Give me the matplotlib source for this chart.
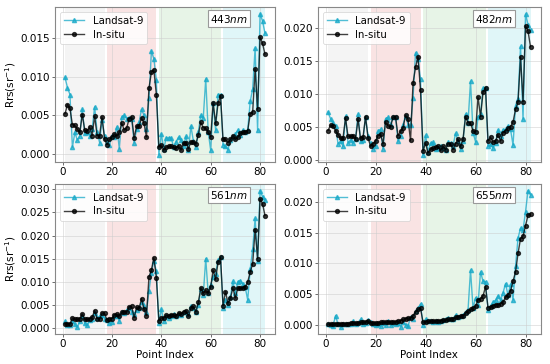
import matplotlib
matplotlib.use("Agg")
import matplotlib.pyplot as plt
from matplotlib.ticker import MultipleLocator, FormatStrFormatter
import numpy as np

idx = np.arange(1, 83)

ls_443 = [0.0099,0.0086,0.0077,0.0009,0.0028,0.0018,0.0024,0.0058,0.0027,0.0029,
          0.0023,0.0033,0.0061,0.0029,0.0015,0.0044,0.0024,0.0016,0.0012,0.0024,
          0.0022,0.0035,0.0007,0.0048,0.0050,0.0046,0.0047,0.0045,0.0015,0.0032,
          0.0041,0.0058,0.0050,0.0033,0.0072,0.0133,0.0123,0.0096,-0.0001,0.0026,
          0.0007,0.0021,0.0021,0.0021,0.0009,0.0016,0.0022,0.0018,0.0010,0.0023,
          0.0006,0.0036,0.0017,0.0009,0.0029,0.0050,0.0047,0.0097,0.0029,0.0005,
          0.0066,0.0031,0.0077,0.0077,0.0012,0.0010,0.0006,0.0018,0.0022,0.0026,
          0.0031,0.0025,0.0031,0.0029,0.0031,0.0068,0.0084,0.0137,0.0031,0.0181,
          0.0172,0.0156]
is_443 = [0.0052,0.0064,0.0059,0.0038,0.0037,0.0032,0.0028,0.0051,0.0031,0.0030,
          0.0035,0.0024,0.0049,0.0024,0.0024,0.0048,0.0020,0.0012,0.0019,0.0022,
          0.0026,0.0023,0.0028,0.0040,0.0031,0.0034,0.0046,0.0048,0.0021,0.0036,
          0.0036,0.0047,0.0040,0.0022,0.0085,0.0106,0.0109,0.0077,0.0009,0.0012,
          0.0005,0.0009,0.0010,0.0010,0.0009,0.0008,0.0011,0.0005,0.0014,0.0015,
          0.0007,0.0016,0.0016,0.0013,0.0025,0.0041,0.0034,0.0034,0.0028,0.0022,
          0.0066,0.0040,0.0066,0.0075,0.0019,0.0019,0.0015,0.0019,0.0024,0.0019,
          0.0022,0.0027,0.0028,0.0029,0.0030,0.0052,0.0054,0.0110,0.0058,0.0151,
          0.0143,0.0129]

ls_482 = [0.0072,0.0062,0.0055,0.0051,0.0024,0.0028,0.0020,0.0066,0.0025,0.0030,
          0.0025,0.0031,0.0069,0.0028,0.0030,0.0064,0.0036,0.0025,0.0016,0.0020,
          0.0043,0.0046,0.0016,0.0062,0.0064,0.0053,0.0064,0.0064,0.0028,0.0036,
          0.0053,0.0066,0.0053,0.0052,0.0093,0.0162,0.0153,0.0122,0.0007,0.0037,
          0.0012,0.0025,0.0026,0.0016,0.0018,0.0021,0.0018,0.0014,0.0026,0.0025,
          0.0020,0.0040,0.0028,0.0016,0.0028,0.0069,0.0056,0.0119,0.0041,0.0027,
          0.0065,0.0069,0.0108,0.0109,0.0020,0.0023,0.0018,0.0025,0.0045,0.0036,
          0.0045,0.0046,0.0051,0.0046,0.0022,0.0082,0.0092,0.0172,0.0061,0.0221,
          0.0205,0.0196]
is_482 = [0.0044,0.0052,0.0051,0.0044,0.0038,0.0032,0.0033,0.0063,0.0035,0.0035,
          0.0036,0.0031,0.0061,0.0032,0.0034,0.0065,0.0033,0.0020,0.0024,0.0028,
          0.0036,0.0039,0.0024,0.0057,0.0051,0.0050,0.0064,0.0065,0.0036,0.0043,
          0.0048,0.0067,0.0061,0.0029,0.0116,0.0140,0.0156,0.0105,0.0013,0.0025,
          0.0010,0.0016,0.0017,0.0019,0.0020,0.0014,0.0020,0.0015,0.0024,0.0024,
          0.0015,0.0024,0.0031,0.0020,0.0031,0.0065,0.0056,0.0056,0.0043,0.0042,
          0.0095,0.0065,0.0102,0.0109,0.0028,0.0034,0.0026,0.0028,0.0038,0.0028,
          0.0041,0.0044,0.0048,0.0050,0.0057,0.0076,0.0087,0.0155,0.0088,0.0203,
          0.0195,0.0171]

ls_561 = [0.0015,0.0008,0.0006,0.0016,0.0009,0.0002,0.0015,0.0026,0.0011,0.0006,
          0.0018,0.0021,0.0033,0.0022,0.0026,0.0029,0.0021,0.0018,0.0012,0.0014,
          0.0026,0.0026,0.0016,0.0036,0.0032,0.0040,0.0043,0.0036,0.0030,0.0040,
          0.0043,0.0056,0.0047,0.0036,0.0080,0.0120,0.0146,0.0123,0.0012,0.0041,
          0.0016,0.0026,0.0023,0.0027,0.0030,0.0026,0.0031,0.0028,0.0034,0.0035,
          0.0030,0.0049,0.0043,0.0034,0.0050,0.0084,0.0072,0.0150,0.0075,0.0094,
          0.0110,0.0118,0.0148,0.0153,0.0043,0.0061,0.0050,0.0068,0.0101,0.0075,
          0.0100,0.0103,0.0096,0.0088,0.0061,0.0127,0.0170,0.0237,0.0146,0.0297,
          0.0284,0.0277]
is_561 = [0.0009,0.0010,0.0009,0.0022,0.0019,0.0019,0.0021,0.0031,0.0019,0.0019,
          0.0021,0.0024,0.0038,0.0021,0.0020,0.0033,0.0032,0.0018,0.0021,0.0021,
          0.0029,0.0030,0.0026,0.0034,0.0036,0.0036,0.0046,0.0047,0.0023,0.0045,
          0.0043,0.0064,0.0041,0.0027,0.0110,0.0126,0.0152,0.0109,0.0016,0.0022,
          0.0022,0.0028,0.0026,0.0029,0.0029,0.0027,0.0033,0.0030,0.0036,0.0037,
          0.0026,0.0043,0.0047,0.0036,0.0056,0.0087,0.0075,0.0082,0.0075,0.0089,
          0.0125,0.0106,0.0143,0.0153,0.0049,0.0079,0.0054,0.0065,0.0087,0.0065,
          0.0087,0.0086,0.0087,0.0089,0.0100,0.0121,0.0139,0.0213,0.0150,0.0279,
          0.0269,0.0243]

ls_655 = [0.0001,0.0000,-0.0002,0.0015,0.0001,-0.0004,0.0002,0.0001,0.0001,0.0002,
          0.0006,0.0002,0.0003,0.0009,0.0001,0.0003,0.0008,0.0004,0.0001,0.0000,
          0.0001,-0.0002,0.0003,-0.0001,0.0006,0.0000,0.0003,0.0001,0.0003,-0.0003,
          0.0005,0.0000,-0.0002,0.0012,0.0009,0.0022,0.0027,0.0034,0.0000,0.0009,
          0.0006,0.0007,0.0005,0.0007,0.0004,0.0006,0.0008,0.0009,0.0011,0.0009,
          0.0010,0.0016,0.0013,0.0015,0.0016,0.0021,0.0024,0.0089,0.0027,0.0044,
          0.0033,0.0086,0.0071,0.0070,0.0024,0.0030,0.0037,0.0040,0.0047,0.0040,
          0.0052,0.0067,0.0048,0.0066,0.0041,0.0095,0.0141,0.0157,0.0154,0.0184,
          0.0218,0.0211]
is_655 = [0.0001,0.0001,0.0001,0.0002,0.0002,0.0002,0.0002,0.0002,0.0002,0.0003,
          0.0003,0.0003,0.0003,0.0004,0.0004,0.0005,0.0006,0.0003,0.0003,0.0003,
          0.0003,0.0004,0.0004,0.0004,0.0005,0.0005,0.0005,0.0005,0.0006,0.0007,
          0.0009,0.0010,0.0011,0.0011,0.0015,0.0021,0.0025,0.0027,0.0004,0.0005,
          0.0006,0.0006,0.0006,0.0006,0.0007,0.0007,0.0008,0.0008,0.0009,0.0010,
          0.0010,0.0012,0.0013,0.0014,0.0015,0.0019,0.0022,0.0025,0.0027,0.0030,
          0.0041,0.0042,0.0047,0.0062,0.0028,0.0029,0.0031,0.0033,0.0033,0.0034,
          0.0037,0.0045,0.0049,0.0055,0.0071,0.0086,0.0116,0.0140,0.0144,0.0161,
          0.0178,0.0180]

bands = ["443", "482", "561", "655"]
landsat = [ls_443, ls_482, ls_561, ls_655]
insitu = [is_443, is_482, is_561, is_655]

groups = [(1, 17), (18, 38), (39, 64), (65, 82)]
group_colors = [("#7f7f7f", 0.08), ("#d62728", 0.13), ("#2ca02c", 0.11), ("#17becf", 0.13)]

fig = plt.figure(figsize=(5.5, 3.64), dpi=100)
positions = [
    [0.100, 0.555, 0.400, 0.426],
    [0.578, 0.555, 0.405, 0.426],
    [0.100, 0.082, 0.400, 0.413],
    [0.578, 0.082, 0.405, 0.413],
]

FS = 7.5
for k in range(4):
    ax = fig.add_axes(positions[k])
    for (a, b), (c, al) in zip(groups, group_colors):
        ax.axvspan(a, b, color=c, alpha=al, lw=0, zorder=0)
    ax.plot(idx, landsat[k], color="#17a9c8", alpha=0.75, lw=1.0, marker="^",
            markersize=3.0, label="Landsat-9", zorder=3)
    ax.plot(idx, insitu[k], color="black", alpha=0.75, lw=1.0, marker="o",
            markersize=2.8, label="In-situ", zorder=4)
    ax.grid(True, color="#cccccc", lw=0.6, alpha=0.6)
    ax.set_axisbelow(True)
    ax.set_xticks([0, 20, 40, 60, 80])
    ax.yaxis.set_major_locator(MultipleLocator(0.005))
    ax.yaxis.set_major_formatter(FormatStrFormatter("%.3f"))
    ax.tick_params(labelsize=FS, length=2, width=0.6, color="#555555", pad=1.5)
    for s in ax.spines.values():
        s.set_color("#888888")
        s.set_linewidth(0.8)
    leg = ax.legend(loc="upper left", fontsize=7.3, framealpha=0.85,
                    handlelength=2.0, borderpad=0.4, labelspacing=0.35,
                    borderaxespad=0.5)
    leg.get_frame().set_linewidth(0.5)
    ax.text(0.79, 0.925, bands[k] + r"$\mathit{nm}$", transform=ax.transAxes,
            ha="center", va="center", fontsize=FS,
            bbox=dict(boxstyle="square,pad=0.2", facecolor="white",
                      edgecolor="#999999", lw=0.8), zorder=6)
    if k % 2 == 0:
        ax.set_ylabel(r"Rrs(sr$^{-1}$)", fontsize=FS, labelpad=2)
    if k >= 2:
        ax.set_xlabel("Point Index", fontsize=FS, labelpad=1)

fig.savefig("out.png", dpi=100)
